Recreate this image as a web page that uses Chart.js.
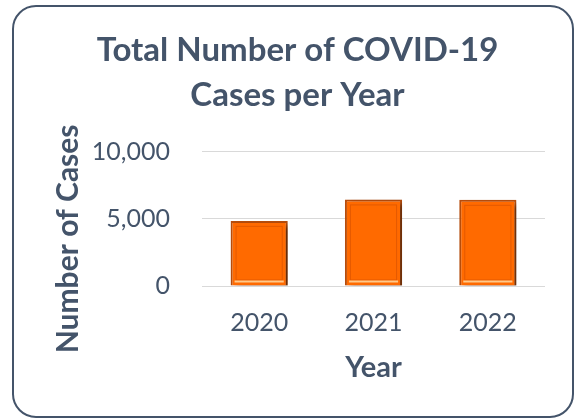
<!DOCTYPE html>
<html>
<head>
<meta charset="utf-8">
<script src="https://cdn.jsdelivr.net/npm/chart.js@4"></script>
<style>
  html, body { margin: 0; padding: 0; background: #fff; }
  #wrap { position: relative; width: 584px; height: 420px; }
  #frame {
    position: absolute; left: 12px; top: 5px; width: 558px; height: 409px;
    border: 2px solid #44546a; border-radius: 24px; box-sizing: content-box;
  }
  canvas { position: absolute; left: 0; top: 0; }
</style>
</head>
<body>
<div id="wrap">
  <div id="frame"></div>
  <canvas id="chart" width="584" height="420"></canvas>
</div>
<script>
// chart data
const years = ['2020', '2021', '2022'];
const cases = [4850, 6450, 6420];
const yTicks = [0, 5000, 10000];
const yTitle = 'Number of Cases';

const textColor = '#44546a';
const fontFamily = 'Lato, "Open Sans", sans-serif';

// Bar shadow + bottom highlight, like the office-style bars
const barDecor = {
  id: 'barDecor',
  beforeDatasetsDraw(chart) {
    const ctx = chart.ctx;
    ctx.save();
    ctx.shadowColor = 'rgba(0,0,0,0.5)';
    ctx.shadowBlur = 5;
    ctx.shadowOffsetX = 4;
    ctx.shadowOffsetY = 3;
  },
  afterDatasetsDraw(chart) {
    const ctx = chart.ctx;
    ctx.restore();
    const meta = chart.getDatasetMeta(0);
    ctx.save();
    meta.data.forEach(bar => {
      const half = bar.width / 2;
      // inner frame
      ctx.strokeStyle = 'rgba(225,88,0,0.9)';
      ctx.lineWidth = 1;
      ctx.strokeRect(bar.x - half + 5.5, bar.y + 5.5, bar.width - 11, bar.base - bar.y - 11);
      // light strip at the base
      ctx.strokeStyle = '#ffc98a';
      ctx.lineWidth = 2;
      ctx.beginPath();
      ctx.moveTo(bar.x - half + 4, bar.base - 4);
      ctx.lineTo(bar.x + half - 4, bar.base - 4);
      ctx.stroke();
    });
    ctx.restore();
  }
};

// y axis title sits a bit lower than the plot centre in the original
const yTitleDraw = {
  id: 'yTitleDraw',
  afterDraw(chart) {
    const ctx = chart.ctx;
    const area = chart.chartArea;
    ctx.save();
    ctx.translate(68, (area.top + area.bottom) / 2 + 20);
    ctx.rotate(-Math.PI / 2);
    ctx.fillStyle = textColor;
    ctx.font = `bold 30px ${fontFamily}`;
    ctx.textAlign = 'center';
    ctx.textBaseline = 'middle';
    ctx.fillText(yTitle, 0, 0);
    ctx.restore();
  }
};

new Chart(document.getElementById('chart'), {
  type: 'bar',
  data: {
    labels: years,
    datasets: [{
      data: cases,
      backgroundColor: '#ff6a00',
      borderColor: '#b84d0c',
      borderWidth: 2,
      barPercentage: 0.5,
      categoryPercentage: 1
    }]
  },
  options: {
    responsive: false,
    animation: false,
    layout: { padding: { left: 50, right: 39, top: 0, bottom: 35 } },
    plugins: {
      legend: { display: false },
      tooltip: { enabled: false },
      title: {
        display: true,
        text: ['Total Number of COVID-19', 'Cases per Year'],
        color: textColor,
        font: { family: fontFamily, size: 33, weight: 'bold', lineHeight: 1.36 },
        padding: { top: 28, bottom: 34 }
      }
    },
    scales: {
      y: {
        min: 0,
        max: 10000,
        afterBuildTicks(scale) {
          scale.ticks = yTicks.map(v => ({ value: v }));
        },
        afterFit(scale) { scale.width = 152; },
        border: { display: false },
        grid: { color: '#d9d9d9', drawTicks: false },
        ticks: {
          color: textColor,
          padding: 32,
          font: { family: fontFamily, size: 25 },
          callback: v => v.toLocaleString('en-US')
        }
      },
      x: {
        afterFit(scale) { scale.height = 99; },
        border: { display: false },
        grid: { display: false, drawTicks: false },
        ticks: {
          color: textColor,
          padding: 22,
          font: { family: fontFamily, size: 25 }
        },
        title: {
          display: true,
          text: 'Year',
          color: textColor,
          font: { family: fontFamily, size: 29, weight: 'bold' },
          padding: { top: 0, bottom: 0 }
        }
      }
    }
  },
  plugins: [barDecor, yTitleDraw]
});
</script>
</body>
</html>
